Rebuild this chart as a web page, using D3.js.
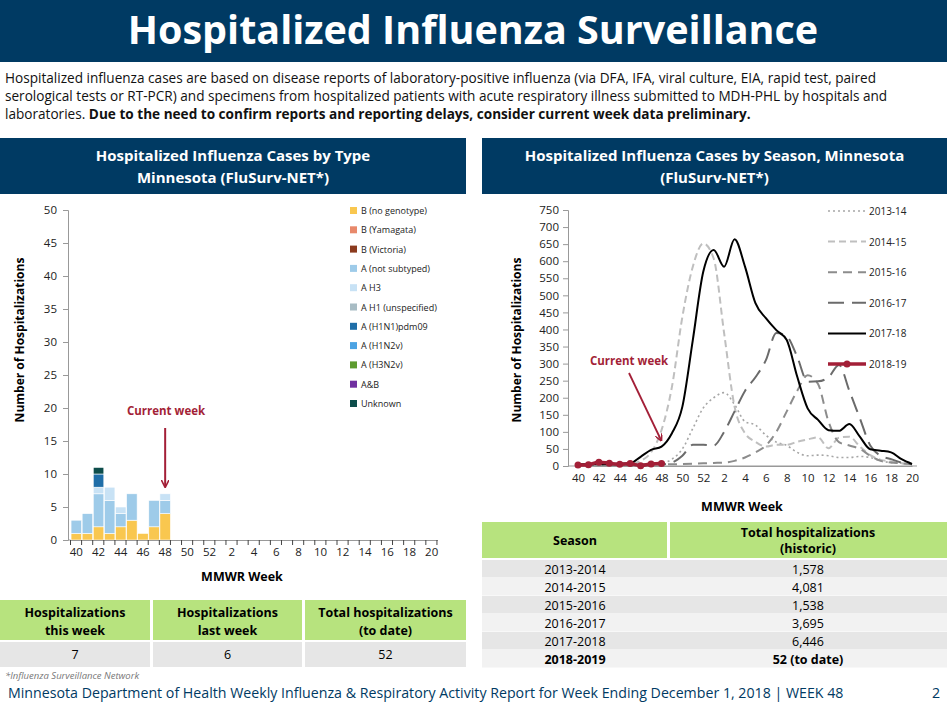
<!DOCTYPE html>
<html><head><meta charset="utf-8">
<script src="https://cdn.jsdelivr.net/npm/d3@7"></script>
<style>body{margin:0;background:#fff;font-family:"Open Sans",sans-serif}svg{display:block}</style>
</head><body><svg id="c" width="947" height="708"></svg>
<script>
const weeks = [40,41,42,43,44,45,46,47,48,49,50,51,52,1,2,3,4,5,6,7,8,9,10,11,12,13,14,15,16,17,18,19,20];
const weekTicks = [40,42,44,46,48,50,52,2,4,6,8,10,12,14,16,18,20];
const types = ["B (no genotype)","B (Yamagata)","B (Victoria)","A (not subtyped)","A H3","A H1 (unspecified)","A (H1N1)pdm09","A (H1N2v)","A (H3N2v)","A&B","Unknown"];
const typeColors = ["#f9c74f","#e8896b","#8b3a1e","#9ecbe9","#c8e2f5","#a8bcc4","#1f6ea8","#4ba3e3","#5d9b2f","#7030a0","#0d4d4b"];
const caseWeeks = [40,41,42,43,44,45,46,47,48];
const bNoGeno   = [1,1,2,1,2,3,1,2,4];
const aNotSub   = [2,3,5,5,2,4,0,4,2];
const aH3       = [0,0,1,2,1,0,0,0,1];
const h1n1pdm   = [0,0,2,0,0,0,0,0,0];
const unknown   = [0,0,1,0,0,0,0,0,0];
const seasons = ["2013-14","2014-15","2015-16","2016-17","2017-18","2018-19"];
const s1314 = [2,2,3,3,3,4,4,5,8,20,50,110,170,200,215,180,130,120,90,70,60,40,30,32,30,25,25,28,25,15,10,8,5];
const s1415 = [2,2,3,3,3,5,15,40,105,232,437,584,652,608,389,174,96,71,57,62,62,71,78,84,52,83,86,57,32,18,13,8,3];
const s1516 = [3,3,3,4,4,4,5,5,5,5,6,7,8,9,10,15,25,40,60,100,160,220,266,240,130,70,60,50,30,15,10,8,5];
const s1617 = [3,3,3,4,4,4,4,5,5,10,30,62,62,60,100,160,220,260,310,390,380,320,247,248,260,296,220,140,60,30,20,10,5];
const s1718 = [5,5,6,6,7,8,27,47,57,96,174,369,569,633,584,664,584,477,433,398,369,262,169,135,105,103,123,86,49,45,40,20,6];
const s1819 = [3,4,11,8,5,7,1,6,7];
const tableSeasons = ["2013-2014","2014-2015","2015-2016","2016-2017","2017-2018","2018-2019"];
const tableTotals = ["1,578","4,081","1,538","3,695","6,446","52 (to date)"];
const summaryHeads = [["Hospitalizations","this week"],["Hospitalizations","last week"],["Total hospitalizations","(to date)"]];
const summaryVals = ["7","6","52"];

const svg = d3.select("#c");
const navy = "#003a63", green = "#b7e37e", gray = "#e6e6e6", red = "#a31f37";
svg.append("rect").attr("x",0).attr("y",0).attr("width",947).attr("height",62).attr("fill",navy);
svg.append("text").attr("x",473).attr("y",44).attr("text-anchor","middle").attr("fill","#fff").attr("font-size",39.5).attr("font-weight","bold").text("Hospitalized Influenza Surveillance");
const para = svg.append("text").attr("font-size",13.6).attr("fill","#111");
para.append("tspan").attr("x",5).attr("y",83).text("Hospitalized influenza cases are based on disease reports of laboratory-positive influenza (via DFA, IFA, viral culture, EIA, rapid test, paired");
para.append("tspan").attr("x",5).attr("y",101).text("serological tests or RT-PCR) and specimens from hospitalized patients with acute respiratory illness submitted to MDH-PHL by hospitals and");
const t3 = para.append("tspan").attr("x",5).attr("y",119);
t3.text("laboratories. ");
para.append("tspan").attr("font-weight","bold").text("Due to the need to confirm reports and reporting delays, consider current week data preliminary.");

function header(x,w,l1,l2){
  svg.append("rect").attr("x",x).attr("y",138).attr("width",w).attr("height",56).attr("fill",navy);
  svg.append("text").attr("x",x+w/2).attr("y",161).attr("text-anchor","middle").attr("fill","#fff").attr("font-size",15).attr("font-weight","bold").text(l1);
  svg.append("text").attr("x",x+w/2).attr("y",183).attr("text-anchor","middle").attr("fill","#fff").attr("font-size",15).attr("font-weight","bold").text(l2);
}
header(0,466,"Hospitalized Influenza Cases by Type","Minnesota (FluSurv-NET*)");
header(482,465,"Hospitalized Influenza Cases by Season, Minnesota","(FluSurv-NET*)");

function xBand(r){return d3.scaleBand().domain(weeks).range(r).padding(0.05);}
const x0L = 70.5;
const xL = xBand([x0L,437.5]);
const yL = d3.scaleLinear().domain([0,50]).range([540,210]);
const gL = svg.append("g");
const stackData = caseWeeks.map((w,i)=>({w,"B (no genotype)":bNoGeno[i],"A (not subtyped)":aNotSub[i],"A H3":aH3[i],"A (H1N1)pdm09":h1n1pdm[i],"Unknown":unknown[i]}));
const stackKeys = ["B (no genotype)","A (not subtyped)","A H3","A (H1N1)pdm09","Unknown"];
const st = d3.stack().keys(stackKeys)(stackData);
st.forEach(s=>{
  const col = typeColors[types.indexOf(s.key)];
  gL.selectAll(null).data(s).join("rect").attr("x",d=>xL(d.data.w)).attr("width",xL.bandwidth())
    .attr("y",d=>yL(d[1])).attr("height",d=>yL(d[0])-yL(d[1])).attr("fill",col).attr("stroke","#fff").attr("stroke-width",0.6);
});
const axL = d3.axisLeft(yL).tickValues(d3.range(0,51,5)).tickSize(5).tickPadding(6);
gL.append("g").attr("transform","translate(68,0)").call(axL);
const axBL = d3.axisBottom(xL).tickValues(weekTicks).tickSize(0).tickPadding(8);
const gx = gL.append("g").attr("transform","translate(0,540)").call(axBL);
gx.selectAll(".tick line").remove();
gL.append("line").attr("x1",68).attr("x2",x0L).attr("y1",540).attr("y2",540).attr("stroke","#999");
gL.selectAll(null).data(weeks.concat([null])).join("line").attr("x1",(d,i)=>x0L+i*xL.step()).attr("x2",(d,i)=>x0L+i*xL.step()).attr("y1",540).attr("y2",545).attr("stroke","#444");
[gL].forEach(g=>{g.selectAll(".domain").attr("stroke","#999");g.selectAll("text").attr("font-size",11.5).attr("fill","#222").attr("font-family","Open Sans");g.selectAll(".tick line").attr("stroke","#999");});
svg.append("text").attr("transform","translate(24,340) rotate(-90)").attr("text-anchor","middle").attr("font-size",12).attr("font-weight","bold").text("Number of Hospitalizations");
svg.append("text").attr("x",242).attr("y",581).attr("text-anchor","middle").attr("font-size",12.5).attr("font-weight","bold").text("MMWR Week");
types.forEach((t,i)=>{
  const y=211+i*19.3;
  svg.append("rect").attr("x",350).attr("y",y-4).attr("width",7).attr("height",7).attr("fill",typeColors[i]);
  svg.append("text").attr("x",361).attr("y",y+3).attr("font-size",9).attr("fill","#222").text(t);
});
const defs = svg.append("defs");
defs.append("marker").attr("id","ah").attr("viewBox","0 0 10 10").attr("refX",8).attr("refY",5).attr("markerWidth",4).attr("markerHeight",4).attr("orient","auto")
  .append("path").attr("d","M0,0 L10,5 L0,10").attr("fill","none").attr("stroke",red).attr("stroke-width",2);
const cx = xL(48)+xL.bandwidth()/2;
svg.append("text").attr("x",166).attr("y",415).attr("text-anchor","middle").attr("font-size",11.5).attr("font-weight","bold").attr("fill",red).text("Current week");
svg.append("line").attr("x1",cx).attr("x2",cx).attr("y1",428).attr("y2",486).attr("stroke",red).attr("stroke-width",2).attr("marker-end","url(#ah)");

const xR = d3.scalePoint().domain(weeks).range([578,912]);
const yR = d3.scaleLinear().domain([0,750]).range([466,210]);
const gR = svg.append("g");
gR.append("g").attr("transform","translate(568,0)").call(d3.axisLeft(yR).tickValues(d3.range(0,751,50)).tickSize(5).tickPadding(4));
const gxR = gR.append("g").attr("transform","translate(0,466)").call(d3.axisBottom(xR).tickValues(weekTicks).tickSize(0).tickPadding(8));
gR.append("line").attr("x1",568).attr("x2",917).attr("y1",466).attr("y2",466).attr("stroke","#999");
gR.selectAll(".domain").attr("stroke","#999");gR.selectAll(".tick line").attr("stroke","#999");
gR.selectAll("text").attr("font-size",11.5).attr("fill","#222").attr("font-family","Open Sans");
svg.append("text").attr("transform","translate(521,340) rotate(-90)").attr("text-anchor","middle").attr("font-size",12).attr("font-weight","bold").text("Number of Hospitalizations");
svg.append("text").attr("x",742).attr("y",511).attr("text-anchor","middle").attr("font-size",12.5).attr("font-weight","bold").text("MMWR Week");
const styles = [
  {d:s1314,c:"#a6a6a6",w:1.6,da:"2,3"},
  {d:s1415,c:"#bfbfbf",w:2,da:"7,4"},
  {d:s1516,c:"#8c8c8c",w:2,da:"9,6"},
  {d:s1617,c:"#6b6b6b",w:2,da:"16,8"},
  {d:s1718,c:"#000",w:2,da:null},
  {d:s1819,c:red,w:3.5,da:null}];
const line = d3.line().x((d,i)=>xR(weeks[i])).y(d=>yR(d)).curve(d3.curveMonotoneX);
styles.forEach((s,k)=>{
  gR.append("path").attr("d",line(s.d)).attr("fill","none").attr("stroke",s.c).attr("stroke-width",s.w).attr("stroke-dasharray",s.da);
  const ly=211+k*30.6;
  svg.append("line").attr("x1",828).attr("x2",866).attr("y1",ly).attr("y2",ly).attr("stroke",s.c).attr("stroke-width",s.w).attr("stroke-dasharray",s.da);
  svg.append("text").attr("x",869).attr("y",ly+4).attr("font-size",10).attr("fill","#222").text(seasons[k]);
});
gR.selectAll(null).data(s1819).join("circle").attr("cx",(d,i)=>xR(weeks[i])).attr("cy",d=>yR(d)).attr("r",3.5).attr("fill",red);
svg.append("circle").attr("cx",847).attr("cy",211+5*30.6).attr("r",3.5).attr("fill",red);
svg.append("text").attr("x",629).attr("y",365).attr("text-anchor","middle").attr("font-size",11.5).attr("font-weight","bold").attr("fill",red).text("Current week");
svg.append("line").attr("x1",629).attr("x2",661).attr("y1",373).attr("y2",440).attr("stroke",red).attr("stroke-width",1.8).attr("marker-end","url(#ah)");

const cols=[[0,150],[153,302],[305,466]];
cols.forEach((c,i)=>{
  svg.append("rect").attr("x",c[0]).attr("y",600).attr("width",c[1]-c[0]).attr("height",40).attr("fill",green);
  svg.append("rect").attr("x",c[0]).attr("y",642).attr("width",c[1]-c[0]).attr("height",25).attr("fill",gray);
  const cxm=(c[0]+c[1])/2;
  summaryHeads[i].forEach((h,j)=>svg.append("text").attr("x",cxm).attr("y",617+j*18).attr("text-anchor","middle").attr("font-size",12.5).attr("font-weight","bold").text(h));
  svg.append("text").attr("x",cxm).attr("y",659).attr("text-anchor","middle").attr("font-size",12.5).text(summaryVals[i]);
});
svg.append("rect").attr("x",482).attr("y",522).attr("width",185).attr("height",36).attr("fill",green);
svg.append("rect").attr("x",670).attr("y",522).attr("width",277).attr("height",36).attr("fill",green);
svg.append("text").attr("x",575).attr("y",545).attr("text-anchor","middle").attr("font-size",12.5).attr("font-weight","bold").text("Season");
svg.append("text").attr("x",808).attr("y",537).attr("text-anchor","middle").attr("font-size",12.5).attr("font-weight","bold").text("Total hospitalizations");
svg.append("text").attr("x",808).attr("y",553).attr("text-anchor","middle").attr("font-size",12.5).attr("font-weight","bold").text("(historic)");
tableSeasons.forEach((s,i)=>{
  const y=560+i*18;
  svg.append("rect").attr("x",482).attr("y",y).attr("width",465).attr("height",17.5).attr("fill",i%2==0?gray:"#f2f2f2");
  const b = i==5?"bold":"normal";
  svg.append("text").attr("x",575).attr("y",y+13.5).attr("text-anchor","middle").attr("font-size",12.5).attr("font-weight",b).text(s);
  svg.append("text").attr("x",808).attr("y",y+13.5).attr("text-anchor","middle").attr("font-size",12.5).attr("font-weight",b).text(tableTotals[i]);
});
svg.append("text").attr("x",5).attr("y",679).attr("font-size",9.5).attr("font-style","italic").attr("fill","#777").text("*Influenza Surveillance Network");
svg.append("text").attr("x",8).attr("y",698).attr("font-size",14.2).attr("fill",navy).text("Minnesota Department of Health Weekly Influenza & Respiratory Activity Report for Week Ending December 1, 2018 | WEEK 48");
svg.append("text").attr("x",940).attr("y",698).attr("text-anchor","end").attr("font-size",14.2).attr("fill",navy).text("2");
</script></body></html>
